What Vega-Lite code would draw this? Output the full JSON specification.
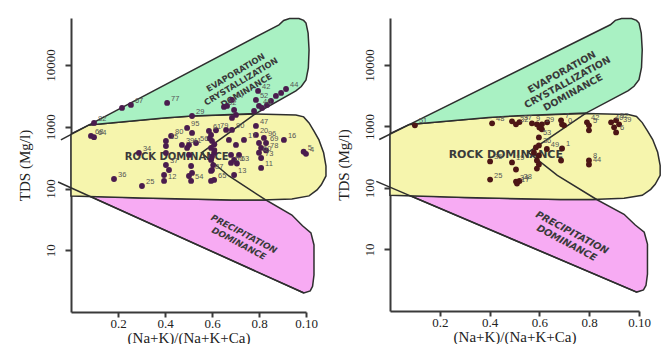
{
  "$schema": "https://vega.github.io/schema/vega-lite/v6.json",
  "padding": {"left": 17, "top": 15, "right": 2, "bottom": 0},
  "background": "white",
  "config": {
    "view": {"stroke": null},
    "axis": {
      "domainColor": "#3a3a3a", "domainWidth": 2, "tickColor": "#3a3a3a", "tickWidth": 2, "tickSize": 6,
      "grid": false, "labelFont": "Liberation Serif", "labelFontSize": 13, "labelColor": "#222",
      "titleFont": "Liberation Serif", "titleFontSize": 15, "titleFontWeight": "normal", "titleColor": "#222"
    }
  },
  "datasets": {
    "shapes": [
      {"shape": "pink", "i": 0, "x": 0.077, "tds": 76},
      {"shape": "pink", "i": 1, "x": 0.3, "tds": 70},
      {"shape": "pink", "i": 2, "x": 0.685, "tds": 65},
      {"shape": "pink", "i": 3, "x": 0.83, "tds": 65},
      {"shape": "pink", "i": 4, "x": 0.94, "tds": 37.3},
      {"shape": "pink", "i": 5, "x": 0.985, "tds": 25},
      {"shape": "pink", "i": 6, "x": 1.021, "tds": 19.1},
      {"shape": "pink", "i": 7, "x": 1.034, "tds": 12.2},
      {"shape": "pink", "i": 8, "x": 1.034, "tds": 3.98},
      {"shape": "pink", "i": 9, "x": 1.028, "tds": 2.6},
      {"shape": "pink", "i": 10, "x": 1.018, "tds": 2.2},
      {"shape": "pink", "i": 11, "x": 0.991, "tds": 2.03},
      {"shape": "pink", "i": 12, "x": 0.077, "tds": 76},
      {"shape": "yellow", "i": 0, "x": 0, "tds": 767},
      {"shape": "yellow", "i": 1, "x": 0.077, "tds": 1074},
      {"shape": "yellow", "i": 2, "x": 0.396, "tds": 1394},
      {"shape": "yellow", "i": 3, "x": 0.515, "tds": 1500},
      {"shape": "yellow", "i": 4, "x": 0.787, "tds": 1620},
      {"shape": "yellow", "i": 5, "x": 0.957, "tds": 1560},
      {"shape": "yellow", "i": 6, "x": 0.99, "tds": 1450},
      {"shape": "yellow", "i": 7, "x": 1.013, "tds": 1156},
      {"shape": "yellow", "i": 8, "x": 1.034, "tds": 850},
      {"shape": "yellow", "i": 9, "x": 1.055, "tds": 614},
      {"shape": "yellow", "i": 10, "x": 1.075, "tds": 380},
      {"shape": "yellow", "i": 11, "x": 1.085, "tds": 232},
      {"shape": "yellow", "i": 12, "x": 1.085, "tds": 160},
      {"shape": "yellow", "i": 13, "x": 1.065, "tds": 115},
      {"shape": "yellow", "i": 14, "x": 1.047, "tds": 95},
      {"shape": "yellow", "i": 15, "x": 1.013, "tds": 76},
      {"shape": "yellow", "i": 16, "x": 0.94, "tds": 68},
      {"shape": "yellow", "i": 17, "x": 0.813, "tds": 65},
      {"shape": "yellow", "i": 18, "x": 0.685, "tds": 65},
      {"shape": "yellow", "i": 19, "x": 0.3, "tds": 70},
      {"shape": "yellow", "i": 20, "x": 0, "tds": 76},
      {"shape": "yellow", "i": 21, "x": 0, "tds": 767},
      {"shape": "green", "i": 0, "x": 0.077, "tds": 1074},
      {"shape": "green", "i": 1, "x": 0.885, "tds": 45000},
      {"shape": "green", "i": 2, "x": 0.905, "tds": 53000},
      {"shape": "green", "i": 3, "x": 0.93, "tds": 57000},
      {"shape": "green", "i": 4, "x": 0.97, "tds": 57000},
      {"shape": "green", "i": 5, "x": 0.99, "tds": 53000},
      {"shape": "green", "i": 6, "x": 1.0, "tds": 48000},
      {"shape": "green", "i": 7, "x": 1.009, "tds": 33000},
      {"shape": "green", "i": 8, "x": 1.013, "tds": 17600},
      {"shape": "green", "i": 9, "x": 1.01, "tds": 9000},
      {"shape": "green", "i": 10, "x": 1.0, "tds": 5760},
      {"shape": "green", "i": 11, "x": 0.98, "tds": 4500},
      {"shape": "green", "i": 12, "x": 0.957, "tds": 3820},
      {"shape": "green", "i": 13, "x": 0.787, "tds": 1650},
      {"shape": "green", "i": 14, "x": 0.515, "tds": 1500},
      {"shape": "green", "i": 15, "x": 0.396, "tds": 1394},
      {"shape": "green", "i": 16, "x": 0.077, "tds": 1074}
    ],
    "lines": [
      {"line": "ext", "i": 0, "x": -0.043, "tds": 614},
      {"line": "ext", "i": 1, "x": 0.077, "tds": 1074},
      {"line": "diag", "i": 0, "x": -0.055, "tds": 128},
      {"line": "diag", "i": 1, "x": 0.991, "tds": 2.03},
      {"line": "chev", "i": 0, "x": 0.787, "tds": 1650},
      {"line": "chev", "i": 1, "x": 0.555, "tds": 380},
      {"line": "chev", "i": 2, "x": 0.672, "tds": 160},
      {"line": "chev", "i": 3, "x": 0.83, "tds": 65}
    ],
    "leftNotes": [
      {"kind": "evap", "text": "EVAPORATION|CRYSTALLIZATION|DOMINANCE", "x": 0.7, "tds": 7600},
      {"kind": "rock", "text": "ROCK DOMINANCE", "x": 0.45, "tds": 325},
      {"kind": "prec", "text": "PRECIPITATION|DOMINANCE", "x": 0.736, "tds": 18.4}
    ],
    "rightNotes": [
      {"kind": "evap", "text": "EVAPORATION|CRYSTALLIZATION|DOMINANCE", "x": 0.69, "tds": 7600},
      {"kind": "rock", "text": "ROCK DOMINANCE", "x": 0.465, "tds": 350},
      {"kind": "prec", "text": "PRECIPITATION|DOMINANCE", "x": 0.731, "tds": 18.7}
    ],
    "leftPts": [
      {"x": 0.085, "tds": 712, "id": "68"}, {"x": 0.098, "tds": 680, "id": "64"}, {"x": 0.098, "tds": 1156, "id": "82"},
      {"x": 0.217, "tds": 2024, "id": ""}, {"x": 0.255, "tds": 2265, "id": "67"}, {"x": 0.409, "tds": 2440, "id": "77"},
      {"x": 0.515, "tds": 1500, "id": "29"}, {"x": 0.651, "tds": 2103, "id": "62"}, {"x": 0.685, "tds": 2729, "id": "97"},
      {"x": 0.664, "tds": 2182, "id": ""}, {"x": 0.694, "tds": 1879, "id": ""}, {"x": 0.702, "tds": 1560, "id": ""},
      {"x": 0.685, "tds": 1394, "id": ""}, {"x": 0.796, "tds": 3820, "id": "42"}, {"x": 0.787, "tds": 2729, "id": "52"},
      {"x": 0.8, "tds": 2182, "id": "46"}, {"x": 0.834, "tds": 2265, "id": ""}, {"x": 0.915, "tds": 4100, "id": "44"},
      {"x": 0.894, "tds": 3540, "id": ""}, {"x": 0.872, "tds": 3170, "id": ""}, {"x": 0.851, "tds": 2630, "id": ""},
      {"x": 0.813, "tds": 2024, "id": ""}, {"x": 0.779, "tds": 1811, "id": ""}, {"x": 0.494, "tds": 960, "id": "95"},
      {"x": 0.587, "tds": 859, "id": "61"}, {"x": 0.617, "tds": 880, "id": "79"}, {"x": 0.787, "tds": 1035, "id": "47"},
      {"x": 0.685, "tds": 891, "id": "90"}, {"x": 0.787, "tds": 739, "id": "20"}, {"x": 0.821, "tds": 661, "id": "96"},
      {"x": 0.906, "tds": 614, "id": "16"}, {"x": 0.736, "tds": 614, "id": "17"}, {"x": 0.83, "tds": 548, "id": "69"},
      {"x": 0.99, "tds": 395, "id": "5"}, {"x": 1.0, "tds": 365, "id": "4"}, {"x": 0.83, "tds": 415, "id": "78"},
      {"x": 0.8, "tds": 380, "id": "60"}, {"x": 0.809, "tds": 313, "id": "73"}, {"x": 0.809, "tds": 216, "id": "11"},
      {"x": 0.694, "tds": 166, "id": "13"}, {"x": 0.681, "tds": 260, "id": "50"}, {"x": 0.706, "tds": 255, "id": "63"},
      {"x": 0.609, "tds": 138, "id": "65"}, {"x": 0.596, "tds": 193, "id": "87"}, {"x": 0.183, "tds": 143, "id": "36"},
      {"x": 0.302, "tds": 110, "id": "25"}, {"x": 0.396, "tds": 133, "id": "12"}, {"x": 0.289, "tds": 378, "id": "34"},
      {"x": 0.404, "tds": 241, "id": "37"}, {"x": 0.404, "tds": 591, "id": "15"}, {"x": 0.426, "tds": 712, "id": "80"},
      {"x": 0.472, "tds": 509, "id": "39"}, {"x": 0.502, "tds": 509, "id": "41"}, {"x": 0.532, "tds": 548, "id": "56"},
      {"x": 0.404, "tds": 490, "id": ""}, {"x": 0.404, "tds": 378, "id": ""}, {"x": 0.417, "tds": 200, "id": ""},
      {"x": 0.396, "tds": 166, "id": ""}, {"x": 0.515, "tds": 796, "id": ""}, {"x": 0.494, "tds": 455, "id": ""},
      {"x": 0.502, "tds": 351, "id": ""}, {"x": 0.511, "tds": 232, "id": ""}, {"x": 0.502, "tds": 160, "id": ""},
      {"x": 0.511, "tds": 133, "id": "54"}, {"x": 0.515, "tds": 179, "id": ""}, {"x": 0.596, "tds": 739, "id": ""},
      {"x": 0.6, "tds": 591, "id": ""}, {"x": 0.596, "tds": 455, "id": ""}, {"x": 0.609, "tds": 378, "id": ""},
      {"x": 0.596, "tds": 291, "id": ""}, {"x": 0.6, "tds": 200, "id": ""}, {"x": 0.596, "tds": 133, "id": ""},
      {"x": 0.672, "tds": 614, "id": ""}, {"x": 0.681, "tds": 351, "id": ""}, {"x": 0.694, "tds": 291, "id": ""},
      {"x": 0.702, "tds": 509, "id": ""}, {"x": 0.66, "tds": 891, "id": ""}, {"x": 0.715, "tds": 351, "id": ""},
      {"x": 0.8, "tds": 548, "id": ""}, {"x": 0.809, "tds": 455, "id": ""}, {"x": 0.59, "tds": 650, "id": ""},
      {"x": 0.61, "tds": 520, "id": ""}, {"x": 0.61, "tds": 420, "id": ""}, {"x": 0.6, "tds": 330, "id": ""},
      {"x": 0.605, "tds": 240, "id": ""}
    ],
    "rightPts": [
      {"x": 0.1, "tds": 1042, "id": "51"}, {"x": 0.41, "tds": 1124, "id": "48"}, {"x": 0.49, "tds": 1211, "id": ""},
      {"x": 0.506, "tds": 1082, "id": "32"}, {"x": 0.52, "tds": 1180, "id": "37"}, {"x": 0.57, "tds": 1124, "id": "9"},
      {"x": 0.59, "tds": 1082, "id": ""}, {"x": 0.61, "tds": 1082, "id": "29"}, {"x": 0.631, "tds": 1166, "id": ""},
      {"x": 0.61, "tds": 897, "id": ""}, {"x": 0.6, "tds": 960, "id": ""}, {"x": 0.687, "tds": 1259, "id": "7"},
      {"x": 0.691, "tds": 1082, "id": ""}, {"x": 0.699, "tds": 1042, "id": "0"}, {"x": 0.791, "tds": 1166, "id": "42"},
      {"x": 0.799, "tds": 1042, "id": "5"}, {"x": 0.799, "tds": 864, "id": ""}, {"x": 0.888, "tds": 1166, "id": "40"},
      {"x": 0.908, "tds": 1259, "id": "52"}, {"x": 0.92, "tds": 1082, "id": "39"}, {"x": 0.9, "tds": 967, "id": ""},
      {"x": 0.908, "tds": 801, "id": "6"}, {"x": 0.598, "tds": 664, "id": "53"}, {"x": 0.598, "tds": 492, "id": "36"},
      {"x": 0.586, "tds": 456, "id": ""}, {"x": 0.578, "tds": 378, "id": ""}, {"x": 0.598, "tds": 338, "id": ""},
      {"x": 0.59, "tds": 280, "id": ""}, {"x": 0.598, "tds": 241, "id": ""}, {"x": 0.59, "tds": 207, "id": ""},
      {"x": 0.691, "tds": 439, "id": "1"}, {"x": 0.687, "tds": 280, "id": ""}, {"x": 0.799, "tds": 280, "id": "8"},
      {"x": 0.799, "tds": 241, "id": "44"}, {"x": 0.402, "tds": 270, "id": "35"}, {"x": 0.49, "tds": 260, "id": "19"},
      {"x": 0.506, "tds": 200, "id": ""}, {"x": 0.402, "tds": 137, "id": "25"}, {"x": 0.506, "tds": 127, "id": "34"},
      {"x": 0.52, "tds": 130, "id": "38"}, {"x": 0.51, "tds": 118, "id": "17"}, {"x": 0.63, "tds": 430, "id": "49"}
    ]
  },
  "hconcat": [
    {
      "width": 235, "height": 294,
      "encoding": {
        "x": {"field": "x", "type": "quantitative", "scale": {"domain": [0, 1], "nice": false, "zero": false},
              "axis": {"values": [0.2, 0.4, 0.6, 0.8, 1.0], "labelExpr": "datum.value == 1 ? '0.10' : format(datum.value, '.1f')", "tickSize": 5, "labelPadding": 0, "titlePadding": 0, "labelFlush": false},
              "title": "(Na+K)/(Na+K+Ca)"},
        "y": {"field": "tds", "type": "quantitative", "scale": {"type": "log", "domain": [1, 58000], "nice": false},
              "axis": {"values": [10, 100, 1000, 10000], "labelAngle": -90, "labelPadding": 8, "titlePadding": 12, "format": "d"},
              "title": "TDS (Mg/l)"}
      },
      "layer": [
        {"data": {"name": "shapes"}, "transform": [{"filter": "datum.shape === 'pink'"}], "mark": {"type": "line", "fill": "#f7abf3", "stroke": "#2e2e2e", "strokeWidth": 1.5}, "encoding": {"order": {"field": "i", "type": "quantitative"}}},
        {"data": {"name": "shapes"}, "transform": [{"filter": "datum.shape === 'yellow'"}], "mark": {"type": "line", "fill": "#f6f5ad", "stroke": "#2e2e2e", "strokeWidth": 1.5}, "encoding": {"order": {"field": "i", "type": "quantitative"}}},
        {"data": {"name": "shapes"}, "transform": [{"filter": "datum.shape === 'green'"}], "mark": {"type": "line", "fill": "#a9f1c3", "stroke": "#2e2e2e", "strokeWidth": 1.5}, "encoding": {"order": {"field": "i", "type": "quantitative"}}},
        {"data": {"name": "lines"}, "mark": {"type": "line", "stroke": "#2e2e2e", "strokeWidth": 1.5}, "encoding": {"detail": {"field": "line"}, "order": {"field": "i", "type": "quantitative"}}},
        {"data": {"name": "leftNotes"}, "transform": [{"filter": "datum.kind === 'evap'"}], "mark": {"type": "text", "font": "DejaVu Sans", "fontWeight": "bold", "fontSize": 8.4, "angle": -31, "lineBreak": "|", "color": "#3a3a3a", "align": "center", "baseline": "middle"}, "encoding": {"text": {"field": "text"}}},
        {"data": {"name": "leftNotes"}, "transform": [{"filter": "datum.kind === 'rock'"}], "mark": {"type": "text", "font": "DejaVu Sans", "fontWeight": "bold", "fontSize": 10, "color": "#3a3a3a", "align": "center", "baseline": "middle"}, "encoding": {"text": {"field": "text"}}},
        {"data": {"name": "leftNotes"}, "transform": [{"filter": "datum.kind === 'prec'"}], "mark": {"type": "text", "font": "DejaVu Sans", "fontWeight": "bold", "fontStyle": "italic", "fontSize": 8.7, "angle": 28, "lineBreak": "|", "color": "#3a3a3a", "align": "center", "baseline": "middle"}, "encoding": {"text": {"field": "text"}}},
        {"data": {"name": "leftPts"}, "mark": {"type": "circle", "size": 34, "color": "#4a1c4e", "opacity": 1}},
        {"data": {"name": "leftPts"}, "mark": {"type": "text", "font": "Liberation Sans", "fontSize": 7.5, "color": "#555", "align": "left", "baseline": "middle", "dx": 4, "dy": -4}, "encoding": {"text": {"field": "id"}}}
      ]
    },
    {
      "width": 249, "height": 293,
      "encoding": {
        "x": {"field": "x", "type": "quantitative", "scale": {"domain": [0, 1], "nice": false, "zero": false},
              "axis": {"values": [0.2, 0.4, 0.6, 0.8, 1.0], "labelExpr": "datum.value == 1 ? '0.10' : format(datum.value, '.1f')", "tickSize": 5, "labelPadding": 0, "titlePadding": 0, "labelFlush": false},
              "title": "(Na+K)/(Na+K+Ca)"},
        "y": {"field": "tds", "type": "quantitative", "scale": {"type": "log", "domain": [1, 58000], "nice": false},
              "axis": {"values": [10, 100, 1000, 10000], "labelAngle": -90, "labelPadding": 8, "titlePadding": 12, "format": "d"},
              "title": "TDS (Mg/l)"}
      },
      "layer": [
        {"data": {"name": "shapes"}, "transform": [{"filter": "datum.shape === 'pink'"}], "mark": {"type": "line", "fill": "#f7abf3", "stroke": "#2e2e2e", "strokeWidth": 1.5}, "encoding": {"order": {"field": "i", "type": "quantitative"}}},
        {"data": {"name": "shapes"}, "transform": [{"filter": "datum.shape === 'yellow'"}], "mark": {"type": "line", "fill": "#f6f5ad", "stroke": "#2e2e2e", "strokeWidth": 1.5}, "encoding": {"order": {"field": "i", "type": "quantitative"}}},
        {"data": {"name": "shapes"}, "transform": [{"filter": "datum.shape === 'green'"}], "mark": {"type": "line", "fill": "#a9f1c3", "stroke": "#2e2e2e", "strokeWidth": 1.5}, "encoding": {"order": {"field": "i", "type": "quantitative"}}},
        {"data": {"name": "lines"}, "mark": {"type": "line", "stroke": "#2e2e2e", "strokeWidth": 1.5}, "encoding": {"detail": {"field": "line"}, "order": {"field": "i", "type": "quantitative"}}},
        {"data": {"name": "rightNotes"}, "transform": [{"filter": "datum.kind === 'evap'"}], "mark": {"type": "text", "font": "DejaVu Sans", "fontWeight": "bold", "fontSize": 9.6, "angle": -29, "lineBreak": "|", "color": "#3a3a3a", "align": "center", "baseline": "middle"}, "encoding": {"text": {"field": "text"}}},
        {"data": {"name": "rightNotes"}, "transform": [{"filter": "datum.kind === 'rock'"}], "mark": {"type": "text", "font": "DejaVu Sans", "fontWeight": "bold", "fontSize": 11, "color": "#3a3a3a", "align": "center", "baseline": "middle"}, "encoding": {"text": {"field": "text"}}},
        {"data": {"name": "rightNotes"}, "transform": [{"filter": "datum.kind === 'prec'"}], "mark": {"type": "text", "font": "DejaVu Sans", "fontWeight": "bold", "fontStyle": "italic", "fontSize": 9.6, "angle": 28, "lineBreak": "|", "color": "#3a3a3a", "align": "center", "baseline": "middle"}, "encoding": {"text": {"field": "text"}}},
        {"data": {"name": "rightPts"}, "mark": {"type": "circle", "size": 34, "color": "#4d1616", "opacity": 1}},
        {"data": {"name": "rightPts"}, "mark": {"type": "text", "font": "Liberation Sans", "fontSize": 7.5, "color": "#555", "align": "left", "baseline": "middle", "dx": 4, "dy": -4}, "encoding": {"text": {"field": "id"}}}
      ]
    }
  ],
  "spacing": 84,
  "bounds": "flush",
  "resolve": {"scale": {"x": "independent", "y": "independent"}}
}
